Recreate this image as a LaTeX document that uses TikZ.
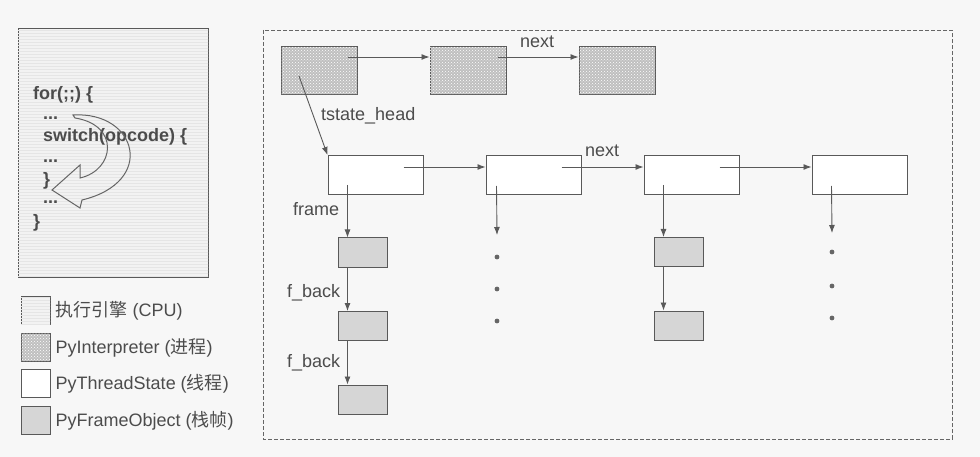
\documentclass[tikz,border=0pt]{standalone}
\usepackage{fontspec}
\setmainfont{Liberation Sans}
\newfontfamily\cjk{Noto Sans CJK SC}
\usetikzlibrary{patterns,arrows.meta}

\begin{document}
\begin{tikzpicture}[x=1pt, y=-1pt, node distance=149pt, font=\fontsize{18}{21}\selectfont, text=black!70,
	box/.style = {draw=black!65, line width=1pt, inner sep=0pt},
	cpu/.style = {box, fill=black!5, postaction={pattern=horizontal lines, pattern color=black!10}},
	interp/.style = {box, fill=black!25, postaction={pattern=crosshatch dots, pattern color=white}, minimum width=76pt, minimum height=48pt},
	thread/.style = {box, fill=white, minimum width=95pt, minimum height=39pt},
	framebox/.style = {box, fill=black!16, minimum width=49pt, minimum height=29pt},
	legendbox/.style = {minimum width=29pt, minimum height=28pt},
	lbl/.style = {inner sep=0pt, anchor=base west},
	code/.style = {lbl, font=\fontsize{18}{21}\selectfont\bfseries},
	arr/.style = {draw=black!65, line width=0.9pt, -{Latex[length=8pt,width=6pt]}}]
	\useasboundingbox (0,0) rectangle (980,457);
	\fill[black!3] (0,0) rectangle (980,457);

	\node[cpu, minimum width=190pt, minimum height=248pt] (cpu) at (113,153) {};
	\node[code] (c1) at (33,100) {for(;;) \{};
	\node[code] (c2) at (43,120) {...};
	\node[code] (c3) at (43,142) {switch(opcode) \{};
	\node[code] (c4) at (43,163) {...};
	\node[code] (c5) at (43,186) {\}};
	\node[code] (c6) at (43,204) {...};
	\node[code] (c7) at (33,228) {\}};
	\draw[black!60, line width=1pt] (73,115) .. controls (137,111) and (157,182) .. (82,200) -- (80,208) -- (52,190) -- (80,165) -- (80,178) .. controls (115,170) and (120,125) .. (75,118) -- cycle;

	\node[cpu, legendbox] (l1) at (35.5,310.5) {};
	\node[interp, legendbox] (l2) [node distance=36.5pt, below of = l1] {};
	\node[thread, legendbox] (l3) [node distance=36.5pt, below of = l2] {};
	\node[framebox, legendbox] (l4) [node distance=36.5pt, below of = l3] {};
	\node[lbl] (lt1) at ([xshift=5pt, yshift=-6pt]l1.east) {{\cjk 执行引擎} (CPU)};
	\node[lbl] (lt2) at ([xshift=5pt, yshift=-6pt]l2.east) {PyInterpreter ({\cjk 进程})};
	\node[lbl] (lt3) at ([xshift=5pt, yshift=-6pt]l3.east) {PyThreadState ({\cjk 线程})};
	\node[lbl] (lt4) at ([xshift=5pt, yshift=-6pt]l4.east) {PyFrameObject ({\cjk 栈帧})};

	\draw[draw=black!60, line width=0.8pt, dash pattern=on 4pt off 2pt] (263,30) rectangle (952,439);

	\node[interp] (p1) at (319,71) {};
	\node[interp] (p2) [right of = p1] {};
	\node[interp] (p3) [right of = p2] {};
	\node[thread] (t1) at (375.5,175) {};
	\node[thread] (t2) [node distance=158pt, right of = t1] {};
	\node[thread] (t3) [node distance=158pt, right of = t2] {};
	\node[thread] (t4) [node distance=168pt, right of = t3] {};
	\node[framebox] (f1) at (362.5,252.5) {};
	\node[framebox] (f2) [node distance=73.5pt, below of = f1] {};
	\node[framebox] (f3) [node distance=73.5pt, below of = f2] {};
	\node[framebox] (f4) at (678.5,252) {};
	\node[framebox] (f5) [node distance=73.5pt, below of = f4] {};
	\coordinate (d2) at (497,235);
	\coordinate (d4) at (832,233);

	\draw[arr] ([xshift=-10pt, yshift=14pt]p1.east) -- ([yshift=14pt]p2.west);
	\draw[arr] ([xshift=-9pt, yshift=14pt]p2.east) -- ([yshift=14pt]p3.west);
	\draw[arr] ([xshift=-20pt, yshift=-5pt]p1.center) -- (t1.north west);
	\draw[arr] ([xshift=-20pt, yshift=8pt]t1.east) -- ([yshift=8pt]t2.west);
	\draw[arr] ([xshift=-20pt, yshift=8pt]t2.east) -- ([yshift=8pt]t3.west);
	\draw[arr] ([xshift=-20pt, yshift=8pt]t3.east) -- ([yshift=8pt]t4.west);
	\draw[arr] ([xshift=20pt, yshift=10pt]t1.south west) -- ([xshift=10pt]f1.north west);
	\draw[arr] ([xshift=10pt]f1.south west) -- ([xshift=10pt]f2.north west);
	\draw[arr] ([xshift=10pt]f2.south west) -- ([xshift=10pt]f3.north west);
	\draw[arr] ([xshift=11pt, yshift=9pt]t2.south west) -- (d2);
	\draw[arr] ([xshift=20pt, yshift=10pt]t3.south west) -- ([xshift=10pt]f4.north west);
	\draw[arr] ([xshift=10pt]f4.south west) -- ([xshift=10pt]f5.north west);
	\draw[arr] ([xshift=20pt, yshift=9pt]t4.south west) -- (d4);
	\foreach \y in {257,289,321} \fill[black!60] (497,\y) circle (2.4pt);
	\foreach \y in {252,286,318} \fill[black!60] (832,\y) circle (2.4pt);

	\node[lbl] (n1) at (520,48) {next};
	\node[lbl] (n2) at (585,157) {next};
	\node[lbl] (th) at (321,121) {tstate\_head};
	\node[lbl] (fr) at (293,216) {frame};
	\node[lbl] (fb1) at (287,297) {f\_back};
	\node[lbl] (fb2) at (287,367) {f\_back};
\end{tikzpicture}
\end{document}
